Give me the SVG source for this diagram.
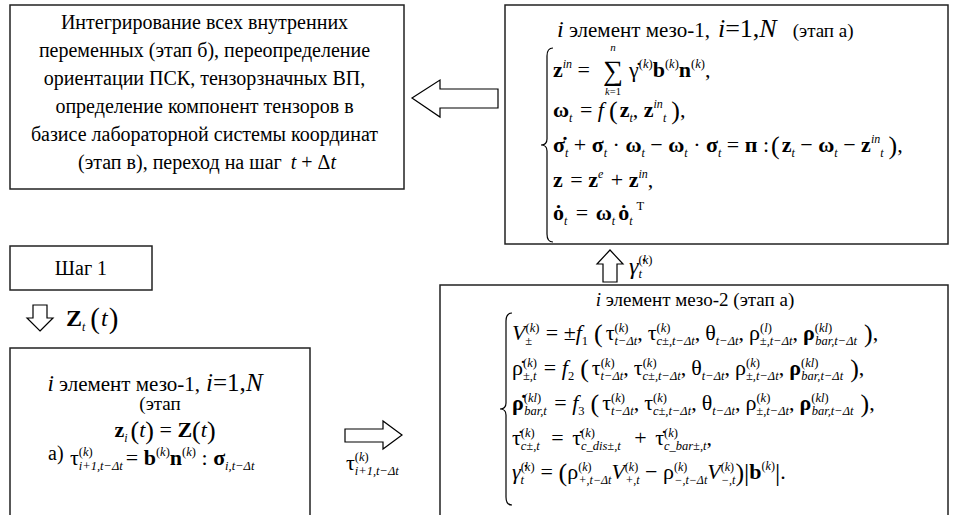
<svg xmlns="http://www.w3.org/2000/svg" width="958" height="515" viewBox="0 0 958 515" font-family="'Liberation Serif', serif">
<style>
.f{font-family:'Liberation Serif','Times New Roman',serif;fill:#000;font-size:22px}
.t20{font-size:20px}
.b{font-weight:bold}
.i{font-style:italic}
.sm{font-size:12.5px}
.sx{font-size:12px}
.p{font-size:26px}
.box{fill:#fff;stroke:#222;stroke-width:1.5}
.arr{fill:#fff;stroke:#000;stroke-width:1.2;stroke-linejoin:miter}
.brace{fill:none;stroke:#000;stroke-width:1.2}
</style>
<rect width="958" height="515" fill="#fff"/>

<g id="node-integrate">
<rect class="box" x="10" y="5" width="394" height="184"/>
<text class="f t20" text-anchor="middle" x="207">
<tspan x="207" y="29">Интегрирование всех внутренних</tspan>
<tspan x="207" y="57">переменных (этап б), переопределение</tspan>
<tspan x="207" y="85">ориентации ПСК, тензорзначных ВП,</tspan>
<tspan x="207" y="113">определение компонент тензоров в</tspan>
<tspan x="207" y="141">базисе лабораторной системы координат</tspan>
<tspan x="207" y="169">(этап в), переход на шаг <tspan class="i" dx="4">t</tspan> + Δ<tspan class="i">t</tspan></tspan>
</text>
</g>

<g id="node-meso1-top">
<rect class="box" x="505" y="5" width="443" height="239"/>
<text class="f" x="557" y="37"><tspan class="i" style="font-size:24px">i</tspan><tspan style="font-size:21px"> элемент мезо-1,</tspan><tspan class="i" style="font-size:26px" dx="8">i</tspan><tspan style="font-size:26px">=1,</tspan><tspan class="i" style="font-size:26px">N</tspan><tspan style="font-size:19px" dx="16">(этап а)</tspan></text>
<path class="brace" d="M553,48 Q547,48 547,56 L547,139 Q547,145 541,145 Q547,145 547,151 L547,234 Q547,242 553,242"/>
<text class="f" x="553" y="77"><tspan class="b">z</tspan><tspan class="sx i" dy="-9">in</tspan><tspan dy="9"> =</tspan></text>
<text class="f" x="603" y="80" style="font-size:28px">∑</text>
<text class="f i" x="613" y="51" style="font-size:11px" text-anchor="middle">n</text>
<text class="f" x="613" y="95" style="font-size:10.5px" text-anchor="middle"><tspan class="i">k</tspan>=1</text>
<text class="f" x="629" y="77"><tspan>γ̇</tspan><tspan class="sm" dy="-9">(<tspan class="i">k</tspan>)</tspan><tspan class="b" dy="9">b</tspan><tspan class="sm" dy="-9">(<tspan class="i">k</tspan>)</tspan><tspan class="b" dy="9">n</tspan><tspan class="sm" dy="-9">(<tspan class="i">k</tspan>)</tspan><tspan dy="9">,</tspan></text>
<text class="f" x="553" y="117"><tspan class="b">ω</tspan><tspan class="sx i" dy="5">t</tspan><tspan dx="2" dy="-5"> = </tspan><tspan class="i">f</tspan><tspan class="p" dx="5" dy="2">(</tspan><tspan class="b" dx="2" dy="-2">z</tspan><tspan class="sx i" dy="5">t</tspan><tspan dy="-5">, </tspan><tspan class="b">z</tspan><tspan class="sx i" dy="-9">in</tspan><tspan class="sx i" dy="14">t</tspan><tspan class="p" dx="5" dy="-3">)</tspan><tspan dy="-2">,</tspan></text>
<text class="f" x="553" y="152"><tspan class="b">σ̇</tspan><tspan class="sx i" dy="5">t</tspan><tspan dy="-5"> + </tspan><tspan class="b">σ</tspan><tspan class="sx i" dy="5">t</tspan><tspan dy="-5"> · </tspan><tspan class="b">ω</tspan><tspan class="sx i" dy="5">t</tspan><tspan dy="-5"> − </tspan><tspan class="b">ω</tspan><tspan class="sx i" dy="5">t</tspan><tspan dy="-5"> · </tspan><tspan class="b">σ</tspan><tspan class="sx i" dy="5">t</tspan><tspan dy="-5"> = </tspan><tspan class="b">п</tspan><tspan> :</tspan><tspan class="p" dx="2" dy="2">(</tspan><tspan class="b" dx="2" dy="-2">z</tspan><tspan class="sx i" dy="5">t</tspan><tspan dy="-5"> − </tspan><tspan class="b">ω</tspan><tspan class="sx i" dy="5">t</tspan><tspan dy="-5"> − </tspan><tspan class="b">z</tspan><tspan class="sx i" dy="-9">in</tspan><tspan class="sx i" dy="14">t</tspan><tspan class="p" dx="5" dy="-3">)</tspan><tspan dy="-2">,</tspan></text>
<text class="f" x="553" y="187"><tspan class="b">z</tspan><tspan dx="2"> = </tspan><tspan class="b">z</tspan><tspan class="sx i" dy="-9">e</tspan><tspan dx="2" dy="9"> + </tspan><tspan class="b">z</tspan><tspan class="sx i" dy="-9">in</tspan><tspan dy="9">,</tspan></text>
<text class="f" x="553" y="220"><tspan class="b">ȯ</tspan><tspan class="sx i" dy="5">t</tspan><tspan dx="3" dy="-5"> = </tspan><tspan class="b" dx="2">ω</tspan><tspan class="sx i" dy="5">t</tspan><tspan class="b" dx="3" dy="-5">ȯ</tspan><tspan class="sx i" dy="5">t</tspan><tspan class="sm" dx="4" dy="-15">T</tspan></text>
</g>

<g id="node-step1">
<rect class="box" x="10" y="246" width="142" height="44"/>
<text class="f t20" x="81" y="275" text-anchor="middle">Шаг 1</text>
</g>

<g id="node-meso1-bottom">
<rect class="box" x="10" y="348" width="300" height="180"/>
<text class="f" x="155" y="391" text-anchor="middle"><tspan class="i" style="font-size:23px">i</tspan><tspan style="font-size:21px"> элемент мезо-1,</tspan><tspan class="i" style="font-size:25px" dx="6">i</tspan><tspan style="font-size:25px">=1,</tspan><tspan class="i" style="font-size:25px">N</tspan></text>
<text class="f" x="160" y="410" text-anchor="middle" style="font-size:19px">(этап</text>
<text class="f" x="165" y="437" text-anchor="middle"><tspan class="b">z</tspan><tspan class="sx i" dy="5">i</tspan><tspan class="p" dx="3" dy="-3">(</tspan><tspan class="i" dy="-2">t</tspan><tspan class="p" dy="2">)</tspan><tspan dy="-2"> = </tspan><tspan class="b">Z</tspan><tspan class="p" dy="2">(</tspan><tspan class="i" dy="-2">t</tspan><tspan class="p" dy="2">)</tspan></text>
<text class="f t20" x="48" y="460">а)</text>
<text class="f" x="70" y="465"><tspan>τ</tspan><tspan class="sm" dy="-9">(<tspan class="i">k</tspan>)</tspan><tspan class="sm i" dx="-14" dy="14">i+1,t−Δt</tspan><tspan dx="3" dy="-5">= </tspan><tspan class="b">b</tspan><tspan class="sm" dy="-9">(<tspan class="i">k</tspan>)</tspan><tspan class="b" dy="9">n</tspan><tspan class="sm" dy="-9">(<tspan class="i">k</tspan>)</tspan><tspan dy="9"> : </tspan><tspan class="b">σ</tspan><tspan class="sm i" dy="5">i,t−Δt</tspan></text>
</g>

<g id="node-meso2">
<rect class="box" x="440" y="285" width="508" height="240"/>
<text class="f" x="695" y="306" text-anchor="middle" style="font-size:19px"><tspan class="i">i</tspan> элемент мезо-2 (этап а)</text>
<path class="brace" d="M512,313 Q506,313 506,321 L506,403 Q506,409 500,409 Q506,409 506,415 L506,497 Q506,505 512,505"/>
<text class="f" x="512" y="340"><tspan class="i">V</tspan><tspan class="sm" dy="-8">(<tspan class="i">k</tspan>)</tspan><tspan class="sm" dx="-14" dy="13">±</tspan><tspan dx="8" dy="-5"> = ±</tspan><tspan class="i">f</tspan><tspan class="sm" dy="5">1</tspan><tspan class="p" dx="6" dy="-3">(</tspan><tspan dx="3" dy="-2">τ</tspan><tspan class="sm" dy="-8">(<tspan class="i">k</tspan>)</tspan><tspan class="sm i" dx="-14" dy="13">t−Δt</tspan><tspan dy="-5">,</tspan><tspan dx="5">τ</tspan><tspan class="sm" dy="-8">(<tspan class="i">k</tspan>)</tspan><tspan class="sm i" dx="-14" dy="13">c±,t−Δt</tspan><tspan dy="-5">,</tspan><tspan dx="5">θ</tspan><tspan class="sm i" dy="5">t−Δt</tspan><tspan dy="-5">,</tspan><tspan dx="5">ρ</tspan><tspan class="sm" dy="-8">(<tspan class="i">l</tspan>)</tspan><tspan class="sm i" dx="-12" dy="13">±,t−Δt</tspan><tspan dy="-5">,</tspan><tspan class="b" dx="5">ρ</tspan><tspan class="sm" dy="-8">(<tspan class="i">kl</tspan>)</tspan><tspan class="sm i" dx="-17" dy="13">bar,t−Δt</tspan><tspan class="p" dx="7" dy="-3">)</tspan><tspan dy="-2">,</tspan></text>
<text class="f" x="512" y="375"><tspan>ρ̇</tspan><tspan class="sm" dy="-8">(<tspan class="i">k</tspan>)</tspan><tspan class="sm i" dx="-14" dy="13">±,t</tspan><tspan dx="2" dy="-5"> = </tspan><tspan class="i">f</tspan><tspan class="sm" dy="5">2</tspan><tspan class="p" dx="6" dy="-3">(</tspan><tspan dx="3" dy="-2">τ</tspan><tspan class="sm" dy="-8">(<tspan class="i">k</tspan>)</tspan><tspan class="sm i" dx="-14" dy="13">t−Δt</tspan><tspan dy="-5">,</tspan><tspan dx="5">τ</tspan><tspan class="sm" dy="-8">(<tspan class="i">k</tspan>)</tspan><tspan class="sm i" dx="-14" dy="13">c±,t−Δt</tspan><tspan dy="-5">,</tspan><tspan dx="5">θ</tspan><tspan class="sm i" dy="5">t−Δt</tspan><tspan dy="-5">,</tspan><tspan dx="5">ρ</tspan><tspan class="sm" dy="-8">(<tspan class="i">k</tspan>)</tspan><tspan class="sm i" dx="-14" dy="13">±,t−Δt</tspan><tspan dy="-5">,</tspan><tspan class="b" dx="5">ρ</tspan><tspan class="sm" dy="-8">(<tspan class="i">kl</tspan>)</tspan><tspan class="sm i" dx="-17" dy="13">bar,t−Δt</tspan><tspan class="p" dx="7" dy="-3">)</tspan><tspan dy="-2">,</tspan></text>
<text class="f" x="512" y="410"><tspan class="b">ρ̇</tspan><tspan class="sm" dy="-8">(<tspan class="i">kl</tspan>)</tspan><tspan class="sm i" dx="-17" dy="13">bar,t</tspan><tspan dx="2" dy="-5"> = </tspan><tspan class="i">f</tspan><tspan class="sm" dy="5">3</tspan><tspan class="p" dx="6" dy="-3">(</tspan><tspan dx="3" dy="-2">τ</tspan><tspan class="sm" dy="-8">(<tspan class="i">k</tspan>)</tspan><tspan class="sm i" dx="-14" dy="13">t−Δt</tspan><tspan dy="-5">,</tspan><tspan dx="5">τ</tspan><tspan class="sm" dy="-8">(<tspan class="i">k</tspan>)</tspan><tspan class="sm i" dx="-14" dy="13">c±,t−Δt</tspan><tspan dy="-5">,</tspan><tspan dx="5">θ</tspan><tspan class="sm i" dy="5">t−Δt</tspan><tspan dy="-5">,</tspan><tspan dx="5">ρ</tspan><tspan class="sm" dy="-8">(<tspan class="i">k</tspan>)</tspan><tspan class="sm i" dx="-14" dy="13">±,t−Δt</tspan><tspan dy="-5">,</tspan><tspan class="b" dx="5">ρ</tspan><tspan class="sm" dy="-8">(<tspan class="i">kl</tspan>)</tspan><tspan class="sm i" dx="-17" dy="13">bar,t−Δt</tspan><tspan class="p" dx="7" dy="-3">)</tspan><tspan dy="-2">,</tspan></text>
<text class="f" x="512" y="445"><tspan>τ̇</tspan><tspan class="sm" dy="-8">(<tspan class="i">k</tspan>)</tspan><tspan class="sm i" dx="-14" dy="13">c±,t</tspan><tspan dx="6" dy="-5"> = </tspan><tspan dx="3">τ̇</tspan><tspan class="sm" dy="-8">(<tspan class="i">k</tspan>)</tspan><tspan class="sm i" dx="-14" dy="13">c_dis±,t</tspan><tspan dx="8" dy="-5"> + </tspan><tspan dx="3">τ̇</tspan><tspan class="sm" dy="-8">(<tspan class="i">k</tspan>)</tspan><tspan class="sm i" dx="-14" dy="13">c_bar±,t</tspan><tspan dy="-5">,</tspan></text>
<text class="f" x="512" y="479"><tspan class="i">γ̇</tspan><tspan class="sm" dy="-8">(<tspan class="i">k</tspan>)</tspan><tspan class="sm i" dx="-14" dy="13">t</tspan><tspan dx="11" dy="-5"> = </tspan><tspan class="p" dy="2">(</tspan><tspan dy="-2">ρ</tspan><tspan class="sx" dy="-8">(<tspan class="i">k</tspan>)</tspan><tspan class="sx i" dx="-13" dy="13">+,t−Δt</tspan><tspan class="i" dy="-5">V</tspan><tspan class="sx" dy="-8">(<tspan class="i">k</tspan>)</tspan><tspan class="sx i" dx="-13" dy="13">+,t</tspan><tspan dy="-5"> − ρ</tspan><tspan class="sx" dy="-8">(<tspan class="i">k</tspan>)</tspan><tspan class="sx i" dx="-13" dy="13">−,t−Δt</tspan><tspan class="i" dy="-5">V</tspan><tspan class="sx" dy="-8">(<tspan class="i">k</tspan>)</tspan><tspan class="sx i" dx="-13" dy="13">−,t</tspan><tspan class="p" dy="-3">)</tspan><tspan class="p">|</tspan><tspan class="b" dy="-2">b</tspan><tspan class="sx" dy="-9">(<tspan class="i">k</tspan>)</tspan><tspan class="p" dy="11">|</tspan><tspan dy="-2">.</tspan></text>
</g>

<g id="connectors">
<polygon class="arr" points="412,98 440,80 440,89 498,89 498,108 440,108 440,117"/>
<polygon class="arr" points="610,250 623,264 617,264 617,282 603,282 603,264 597,264"/>
<text class="f" x="629" y="274" style="font-size:24px"><tspan class="i">γ̇</tspan><tspan class="sm" dy="-10">(<tspan class="i">k</tspan>)</tspan><tspan class="sm i" dx="-14" dy="14">t</tspan></text>
<polygon class="arr" points="40,331 53,318 47,318 47,305 33,305 33,318 27,318"/>
<text class="f" x="66" y="326" style="font-size:24px"><tspan class="b">Z</tspan><tspan class="sx i" dy="5">t</tspan><tspan style="font-size:29px" dx="5" dy="-3">(</tspan><tspan class="i" dx="1" dy="-2">t</tspan><tspan style="font-size:29px" dx="1" dy="2">)</tspan></text>
<polygon class="arr" points="402,435 383,421 383,429 345,429 345,442 383,442 383,449"/>
<text class="f" x="346" y="470"><tspan>τ</tspan><tspan class="sm" dy="-9">(<tspan class="i">k</tspan>)</tspan><tspan class="sm i" dx="-14" dy="14">i+1,t−Δt</tspan></text>
</g>
</svg>
